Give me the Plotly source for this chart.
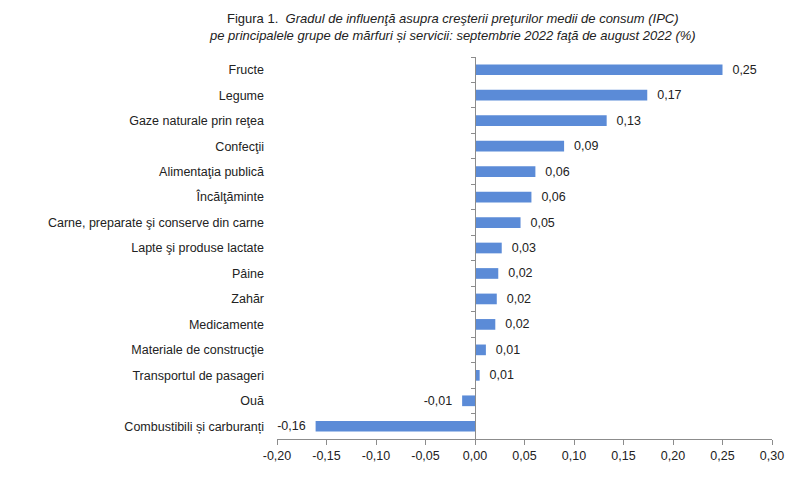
import plotly.graph_objects as go

categories = ["Fructe", "Legume", "Gaze naturale prin reţea", "Confecţii", "Alimentaţia publică",
              "Încălţăminte", "Carne, preparate şi conserve din carne", "Lapte şi produse lactate",
              "Pâine", "Zahăr", "Medicamente", "Materiale de construcţie", "Transportul de pasageri",
              "Ouă", "Combustibili și carburanți"]
values = [0.250, 0.174, 0.133, 0.090, 0.061, 0.057, 0.046, 0.027, 0.0235, 0.022, 0.0205, 0.011, 0.0047, -0.013, -0.161]
value_labels = ["0,25", "0,17", "0,13", "0,09", "0,06", "0,06", "0,05", "0,03", "0,02", "0,02", "0,02",
                "0,01", "0,01", "-0,01", "-0,16"]
x_ticks = [-0.20, -0.15, -0.10, -0.05, 0.00, 0.05, 0.10, 0.15, 0.20, 0.25, 0.30]
x_tick_labels = ["-0,20", "-0,15", "-0,10", "-0,05", "0,00", "0,05", "0,10", "0,15", "0,20", "0,25", "0,30"]

FONT = "Liberation Sans, Arial, sans-serif"
AXIS = "#8c8c8c"
TXT = "#222222"

templates = ["  %{text}" if v >= 0 else "%{text}  " for v in values]

fig = go.Figure()
fig.add_trace(go.Bar(
    x=values, y=categories, orientation="h", width=0.42,
    marker=dict(color="#5b8bd7", line=dict(width=0)),
    text=value_labels, texttemplate=templates, textposition="outside",
    cliponaxis=False, constraintext="none",
    textfont=dict(family=FONT, size=12.5, color=TXT),
    hoverinfo="skip",
))
# invisible trace for the zero-line axis with category boundary ticks
fig.add_trace(go.Scatter(x=[0], y=[0], yaxis="y2", mode="markers",
                         marker=dict(opacity=0), showlegend=False, hoverinfo="skip"))

n = len(categories)
zero_pos = (0 - x_ticks[0]) / (x_ticks[-1] - x_ticks[0])

fig.update_layout(
    width=800, height=477,
    margin=dict(l=269, r=36, t=49, b=46),
    paper_bgcolor="white", plot_bgcolor="white",
    showlegend=False,
    bargap=0.58,
    font=dict(family=FONT, size=12.5, color=TXT),
    xaxis=dict(
        range=[x_ticks[0], x_ticks[-1]], tickmode="array", tickvals=x_ticks, ticktext=x_tick_labels,
        showgrid=False, zeroline=False, showline=True, linecolor=AXIS, linewidth=1,
        ticks="outside", ticklen=5, tickcolor=AXIS,
        tickfont=dict(family=FONT, size=12.5, color=TXT),
    ),
    yaxis=dict(
        type="category", categoryorder="array", categoryarray=categories, autorange="reversed",
        showgrid=False, zeroline=False, showline=False, ticks="",
        ticklabelstandoff=12,
        tickfont=dict(family=FONT, size=12.5, color=TXT),
    ),
    yaxis2=dict(
        overlaying="y", anchor="free", position=zero_pos, side="left",
        range=[n - 0.5, -0.5], tickmode="array", tickvals=[i - 0.5 for i in range(n + 1)],
        showticklabels=False, ticks="outside", ticklen=4, tickcolor=AXIS,
        showline=True, linecolor=AXIS, linewidth=1, showgrid=False, zeroline=False,
    ),
)

fig.add_annotation(
    xref="paper", yref="paper", x=(444 - 269) / 495, y=1, yshift=12, yanchor="bottom",
    showarrow=False, align="center",
    text="Figura 1.  <i>Gradul de influenţă asupra creşterii preţurilor medii de consum (IPC)</i><br>"
         "<i>pe principalele grupe de mărfuri și servicii: septembrie 2022 faţă de august 2022 (%)</i>",
    font=dict(family=FONT, size=13, color=TXT),
)

fig.write_html("out.html")
